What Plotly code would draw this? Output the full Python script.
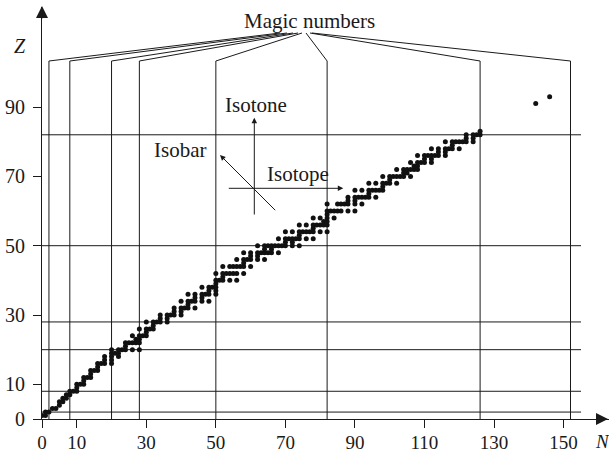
import plotly.graph_objects as go

# ---------------- data ----------------
ELEMENT_Z = [1, 2, 3, 4, 5, 6, 7, 8, 9, 10,
             11, 12, 13, 14, 15, 16, 17, 18, 19, 20,
             21, 22, 23, 24, 25, 26, 27, 28, 29, 30,
             31, 32, 33, 34, 35, 36, 37, 38, 39, 40,
             41, 42, 44, 45, 46, 47, 48, 49, 50,
             51, 52, 53, 54, 55, 56, 57, 58, 59, 60,
             62, 63, 64, 65, 66, 67, 68, 69, 70,
             71, 72, 73, 74, 75, 76, 77, 78, 79, 80,
             81, 82, 83, 91, 93]
NEUTRON_NUMBERS = [
    [0, 1], [1, 2], [3, 4], [5], [5, 6], [6, 7], [7, 8], [8, 9, 10], [10], [10, 11, 12],
    [12], [12, 13, 14], [14], [14, 15, 16], [16], [16, 17, 18, 20], [18, 20], [18, 20, 22], [20, 21, 22], [20, 22, 23, 24, 26, 28],
    [24], [24, 25, 26, 27, 28], [27, 28], [26, 28, 29, 30], [30], [28, 30, 31, 32], [32], [30, 32, 33, 34, 36], [34, 36], [34, 36, 37, 38, 40],
    [38, 40], [38, 40, 41, 42, 44], [42], [40, 42, 43, 44, 46, 48], [44, 46], [42, 44, 46, 47, 48, 50], [48, 50], [46, 48, 49, 50], [50], [50, 51, 52, 54, 56],
    [52], [50, 52, 53, 54, 55, 56, 58], [52, 54, 55, 56, 57, 58, 60], [58], [56, 58, 59, 60, 62, 64], [60, 62], [58, 60, 62, 63, 64, 65, 66, 68], [64, 66], [62, 64, 65, 66, 67, 68, 69, 70, 72, 74],
    [70, 72], [68, 70, 71, 72, 73, 74, 76, 78], [74], [70, 72, 74, 75, 76, 77, 78, 80, 82], [78], [74, 76, 78, 79, 80, 81, 82], [81, 82], [78, 80, 82, 84], [82], [82, 83, 84, 85, 86, 88, 90],
    [82, 85, 86, 87, 88, 90, 92], [88, 90], [88, 90, 91, 92, 93, 94, 96], [94], [90, 92, 94, 95, 96, 97, 98], [98], [94, 96, 98, 99, 100, 102], [100], [98, 100, 101, 102, 103, 104, 106],
    [104, 105], [102, 104, 105, 106, 107, 108], [107, 108], [106, 108, 109, 110, 112], [110, 112], [108, 110, 111, 112, 113, 114, 116], [114, 116], [112, 114, 116, 117, 118, 120], [118], [116, 118, 119, 120, 121, 122, 124],
    [122, 124], [122, 124, 125, 126], [126], [142], [146],
]
MAGIC_N = [2, 8, 20, 28, 50, 82, 126, 152]
MAGIC_Z = [2, 8, 20, 28, 50, 82]
X_TICKS = [0, 10, 30, 50, 70, 90, 110, 130, 150]
Y_TICKS = [0, 10, 30, 50, 70, 90]

# ---------------- geometry / style ----------------
W, H = 609, 454
L, R, T, B = 42, 0, 7, 35
PW, PH = W - L - R, H - T - B
SX, SY = 3.477, 3.466          # pixels per unit
XMAX, YMAX = PW / SX, PH / SY
FONT = "Liberation Serif"
INK = "#1a1a1a"

def px_n(px):   # pixel x -> N
    return (px - L) / SX

def py_z(py):   # pixel y -> Z
    return (H - B - py) / SY

def paper_x(px):
    return (px - L) / PW

def paper_y(py):
    return (H - B - py) / PH

TOP_Z = py_z(61)
APEX_Z = py_z(33)
APEX_PX = [280, 287, 293, 298, 302, 306, 310, 312]
H_END = px_n(581)

xs, ys = [], []
for z, ns in zip(ELEMENT_Z, NEUTRON_NUMBERS):
    for n in ns:
        xs.append(n)
        ys.append(z)

fig = go.Figure()

# magic-number lines (vertical, then slanting up to the label)
for n, apx in zip(MAGIC_N, APEX_PX):
    fig.add_trace(go.Scatter(x=[n, n, px_n(apx)], y=[0, TOP_Z, APEX_Z], mode="lines",
                             line=dict(color=INK, width=1), hoverinfo="skip", showlegend=False))
for z in MAGIC_Z:
    fig.add_trace(go.Scatter(x=[0, H_END], y=[z, z], mode="lines",
                             line=dict(color=INK, width=1), hoverinfo="skip", showlegend=False))

# stable nuclides
fig.add_trace(go.Scatter(x=xs, y=ys, mode="markers",
                         marker=dict(size=5, color="#111111", line=dict(width=0)),
                         showlegend=False))

ann = []
def text(s, px, py, size=20, italic=False):
    ann.append(dict(text=("<i>%s</i>" % s) if italic else s, x=paper_x(px), y=paper_y(py),
                    xref="paper", yref="paper", showarrow=False, xanchor="center", yanchor="middle",
                    font=dict(family=FONT, size=size, color=INK)))

def arrow(x0, y0, x1, y1):
    ann.append(dict(x=px_n(x1), y=py_z(y1), ax=px_n(x0), ay=py_z(y0), xref="x", yref="y",
                    axref="x", ayref="y", text="", showarrow=True, arrowhead=2, arrowsize=1.1,
                    arrowwidth=1, arrowcolor=INK))

text("Magic numbers", 309, 21, 21)
text("Isotone", 256, 105, 21)
text("Isobar", 180, 150, 21)
text("Isotope", 298, 174, 21)
text("Z", 20, 46, 20, italic=True)
text("N", 602, 441, 19, italic=True)

arrow(254.3, 216, 254.3, 117.7)     # isotone
arrow(227.3, 188.3, 343.3, 188.3)   # isotope
arrow(276.7, 211.7, 220, 155)       # isobar

# axis arrowheads
ann.append(dict(x=paper_x(L), y=paper_y(6), ax=0, ay=14, xref="paper", yref="paper",
                text="", showarrow=True, arrowhead=2, arrowsize=2.4, arrowwidth=1, arrowcolor=INK))
ann.append(dict(x=paper_x(609), y=paper_y(H - B), ax=-14, ay=0, xref="paper", yref="paper",
                text="", showarrow=True, arrowhead=2, arrowsize=2.4, arrowwidth=1, arrowcolor=INK))

axis_common = dict(showgrid=False, zeroline=False, showline=True, linecolor=INK, linewidth=1,
                   ticks="outside", ticklen=8, tickwidth=1, tickcolor=INK, automargin=False,
                   fixedrange=True)

fig.update_layout(
    width=W, height=H, margin=dict(l=L, r=R, t=T, b=B, pad=0, autoexpand=False),
    paper_bgcolor="white", plot_bgcolor="white",
    xaxis=dict(range=[0, XMAX], tickvals=X_TICKS, ticklabelstandoff=-2,
               tickfont=dict(family=FONT, size=19, color=INK), **axis_common),
    yaxis=dict(range=[0, YMAX], tickvals=Y_TICKS, ticklabelstandoff=4,
               tickfont=dict(family=FONT, size=20, color=INK), **axis_common),
    annotations=ann, showlegend=False,
)

fig.write_html("out.html", config={"displayModeBar": False},
               post_script="document.body.style.margin='0';document.body.style.overflow='hidden';")
